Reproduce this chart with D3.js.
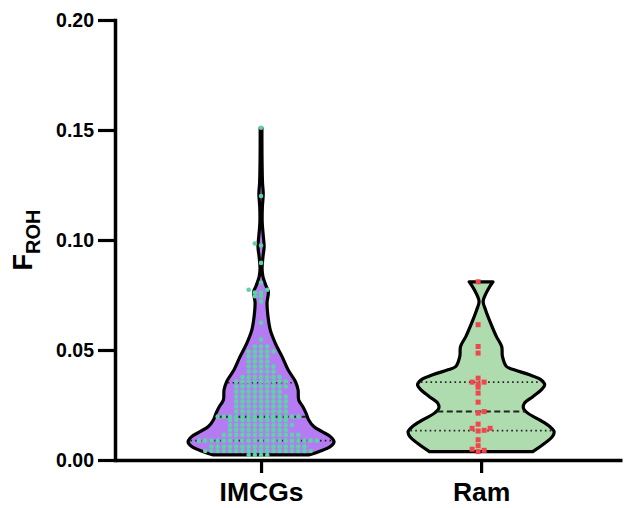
<!DOCTYPE html>
<html>
<head>
<meta charset="utf-8">
<script src="https://cdn.jsdelivr.net/npm/d3@7/dist/d3.min.js"></script>
<style>
  html, body { margin: 0; padding: 0; background: #fff; }
  svg { display: block; font-family: "Liberation Sans", Arial, Helvetica, sans-serif; font-weight: bold; }
</style>
</head>
<body>
<svg id="chart" width="625" height="508"></svg>
<script>
// ---------------- data ----------------
const categories = ["IMCGs", "Ram"];
const yTicks = [0, 0.05, 0.10, 0.15, 0.20];

// IMCGs FROH values (read row by row from the dot cloud)
const imcgsValues = [
  0.0023, 0.0023, 0.0023, 0.0023,
  0.0041, 0.0041, 0.0041, 0.0041, 0.0041, 0.0041, 0.0041, 0.0041, 0.0041, 0.0041, 0.0041, 0.0041, 0.0041, 0.0041, 0.0041, 0.0041, 0.0041, 0.0041,
  0.0061, 0.0061, 0.0061, 0.0061, 0.0061, 0.0061, 0.0061, 0.0061, 0.0061, 0.0061, 0.0061, 0.0061, 0.0061, 0.0061, 0.0061, 0.0061,
  0.0088, 0.0088, 0.0088, 0.0088, 0.0088, 0.0088, 0.0088, 0.0088, 0.0088, 0.0088, 0.0088, 0.0088, 0.0088, 0.0088, 0.0088, 0.0088, 0.0088, 0.0088, 0.0088, 0.0088,
  0.0114, 0.0114, 0.0114, 0.0114, 0.0114, 0.0114, 0.0114, 0.0114, 0.0114, 0.0114, 0.0114, 0.0114, 0.0114,
  0.0137, 0.0137, 0.0137, 0.0137, 0.0137, 0.0137, 0.0137, 0.0137, 0.0137, 0.0137,
  0.0159, 0.0159, 0.0159, 0.0159, 0.0159, 0.0159, 0.0159, 0.0159, 0.0159, 0.0159, 0.0159,
  0.0182, 0.0182, 0.0182, 0.0182, 0.0182, 0.0182, 0.0182, 0.0182, 0.0182, 0.0182,
  0.0197, 0.0197, 0.0197, 0.0197, 0.0197, 0.0197, 0.0197, 0.0197, 0.0197, 0.0197, 0.0197, 0.0197, 0.0197, 0.0197,
  0.0220, 0.0220, 0.0220, 0.0220, 0.0220, 0.0220, 0.0220, 0.0220, 0.0220,
  0.0243, 0.0243, 0.0243, 0.0243, 0.0243, 0.0243, 0.0243, 0.0243, 0.0243,
  0.0266, 0.0266, 0.0266, 0.0266, 0.0266, 0.0266, 0.0266, 0.0266, 0.0266,
  0.0288, 0.0288, 0.0288, 0.0288, 0.0288, 0.0288, 0.0288, 0.0288, 0.0288,
  0.0311, 0.0311, 0.0311, 0.0311, 0.0311, 0.0311, 0.0311, 0.0311,
  0.0334, 0.0334, 0.0334, 0.0334, 0.0334, 0.0334, 0.0334, 0.0334, 0.0334,
  0.0357, 0.0357, 0.0357, 0.0357, 0.0357, 0.0357, 0.0357, 0.0357, 0.0357,
  0.0377, 0.0377, 0.0377, 0.0377, 0.0377, 0.0377, 0.0377,
  0.0402, 0.0402, 0.0402, 0.0402, 0.0402,
  0.0425, 0.0425, 0.0425, 0.0425, 0.0425,
  0.0448, 0.0448, 0.0448, 0.0448,
  0.0471, 0.0471, 0.0471, 0.0471,
  0.0493, 0.0493, 0.0493, 0.0493, 0.0493,
  0.0516, 0.0516, 0.0516,
  0.0547, 0.0624, 0.0721, 0.0744, 0.0744, 0.0761, 0.0761, 0.0774, 0.0774,
  0.0806, 0.0896, 0.0975, 0.0984, 0.120, 0.151
];

// Ram FROH values
const ramValues = [
  0.0810, 0.0615, 0.0516, 0.0486, 0.0354, 0.0372, 0.0354, 0.0345, 0.0331,
  0.0304, 0.0263, 0.0220, 0.0213, 0.0163, 0.0144, 0.0144, 0.0135, 0.0132,
  0.0092, 0.0065, 0.0038, 0.0044, 0.0049
];

// violin outlines: [FROH value, relative density (1 = widest)]
const imcgsDensity = [
  [0.151, 0.012], [0.145, 0.012], [0.135, 0.014], [0.126, 0.02], [0.121, 0.03],
  [0.115, 0.018], [0.108, 0.016], [0.102, 0.03], [0.097, 0.042], [0.092, 0.025],
  [0.087, 0.014], [0.0835, 0.025], [0.079, 0.07], [0.0765, 0.1], [0.0714, 0.082],
  [0.065, 0.096], [0.059, 0.127], [0.053, 0.196], [0.047, 0.288], [0.041, 0.37],
  [0.0357, 0.47], [0.0319, 0.507], [0.0273, 0.516], [0.0243, 0.571], [0.0213, 0.616],
  [0.0182, 0.653], [0.0152, 0.722], [0.0129, 0.836], [0.0106, 0.95], [0.0083, 1.0],
  [0.0061, 0.95], [0.0038, 0.79], [0.0023, 0.653]
];
const ramDensity = [
  [0.0810, 0.163], [0.0774, 0.093], [0.0721, 0.028], [0.0683, 0.06], [0.0623, 0.129],
  [0.0562, 0.208], [0.0516, 0.282], [0.0471, 0.292], [0.0425, 0.347], [0.041, 0.454],
  [0.0387, 0.663], [0.0364, 0.824], [0.0342, 0.871], [0.0319, 0.824], [0.0288, 0.708],
  [0.0258, 0.593], [0.0236, 0.579], [0.0213, 0.639], [0.0182, 0.801], [0.0152, 0.94],
  [0.0129, 1.0], [0.0106, 0.976], [0.0076, 0.871], [0.0038, 0.708]
];

// ---------------- chart ----------------
const svg = d3.select("#chart");
const axisX = 115, axisY = 460;

const y = d3.scaleLinear().domain([0, 0.20]).range([460, 20]);
const x = d3.scalePoint().domain(categories).range([axisX, 622]).padding(0.652).align(0.509);
const w = d3.scaleLinear().domain([0, 1]).range([0, 73]);

const groups = [
  { name: "IMCGs", values: imcgsValues, density: imcgsDensity, fill: "#b47bf3", dot: "#5cd3a5", shape: "circle", spacing: 6.2, offsets: "center" },
  { name: "Ram", values: ramValues, density: ramDensity, fill: "#afdcae", dot: "#f0464e", shape: "square", spacing: 6, offsets: "half" }
];

function halfWidthAt(density, v) {
  const d = density.slice().sort((a, b) => a[0] - b[0]);
  if (v <= d[0][0]) return d[0][1];
  for (let i = 1; i < d.length; i++) {
    if (v <= d[i][0]) {
      const t = (v - d[i - 1][0]) / (d[i][0] - d[i - 1][0]);
      return d[i - 1][1] + t * (d[i][1] - d[i - 1][1]);
    }
  }
  return d[d.length - 1][1];
}

function dodge(values, spacing, mode, thresh) {
  const sorted = values.slice().sort((a, b) => a - b);
  const cands = [];
  for (let k = 0; k < 40; k++) {
    if (mode === "center") {
      if (k === 0) cands.push(0); else { cands.push(-k); cands.push(k); }
    } else {
      cands.push(-(k + 0.5)); cands.push(k + 0.5);
    }
  }
  const placed = [];
  sorted.forEach(v => {
    const py = y(v);
    for (const c of cands) {
      const hit = placed.some(p => p.c === c && Math.abs(p.py - py) < thresh);
      if (!hit) { placed.push({ v, py, c, dx: c * spacing }); break; }
    }
  });
  return placed;
}

groups.forEach(g => {
  const cx = x(g.name);
  const gg = svg.append("g");
  const area = d3.area()
    .y(d => y(d[0]))
    .x0(d => cx - w(d[1]))
    .x1(d => cx + w(d[1]))
    .curve(d3.curveCatmullRom.alpha(0.5));
  const dens = g.density.slice().sort((a, b) => b[0] - a[0]);
  gg.append("path")
    .datum(dens)
    .attr("d", area)
    .attr("fill", g.fill)
    .attr("stroke", "#000")
    .attr("stroke-width", 3.2)
    .attr("stroke-linejoin", "round");

  // quartile lines
  const s = g.values.slice().sort((a, b) => a - b);
  const q = [
    { v: d3.quantile(s, 0.25), dash: "1.6,3.2" },
    { v: d3.quantile(s, 0.5), dash: "6,3.5" },
    { v: d3.quantile(s, 0.75), dash: "1.6,3.2" }
  ];
  q.forEach(l => {
    const hw = w(halfWidthAt(g.density, l.v)) - 1.5;
    gg.append("line")
      .attr("x1", cx - hw).attr("x2", cx + hw)
      .attr("y1", y(l.v)).attr("y2", y(l.v))
      .attr("stroke", "#222")
      .attr("stroke-width", l.dash.startsWith("6") ? 2 : 1.6)
      .attr("stroke-dasharray", l.dash);
  });

  // points
  const pts = dodge(g.values, g.spacing, g.offsets, 3);
  if (g.shape === "circle") {
    gg.selectAll("circle.pt").data(pts).join("circle")
      .attr("class", "pt")
      .attr("cx", d => cx + d.dx)
      .attr("cy", d => d.py)
      .attr("r", 2.3)
      .attr("fill", g.dot);
  } else {
    gg.selectAll("rect.pt").data(pts).join("rect")
      .attr("class", "pt")
      .attr("x", d => cx + d.dx - 2.5)
      .attr("y", d => d.py - 2.5)
      .attr("width", 5).attr("height", 5)
      .attr("fill", g.dot);
  }
});

// y axis
const yAxis = svg.append("g")
  .attr("transform", `translate(${axisX},0)`)
  .call(d3.axisLeft(y).tickValues(yTicks).tickFormat(d3.format(".2f")).tickSize(17).tickSizeOuter(0).tickPadding(4));
yAxis.select(".domain").attr("stroke", "#000").attr("stroke-width", 3.5).attr("stroke-linecap", "square");
yAxis.selectAll(".tick line").attr("stroke", "#000").attr("stroke-width", 3.2);
yAxis.selectAll(".tick text")
  .attr("fill", "#000")
  .style("font-size", "19.5px")
  .style("font-weight", "bold")
  .style("font-family", "'Liberation Sans', Arial, sans-serif");

// x axis
const xAxis = svg.append("g")
  .attr("transform", `translate(0,${axisY})`)
  .call(d3.axisBottom(x).tickSize(13).tickSizeOuter(0).tickPadding(9.5));
xAxis.select(".domain").attr("stroke", "#000").attr("stroke-width", 3.5);
xAxis.selectAll(".tick line").attr("stroke", "#000").attr("stroke-width", 3.2);
xAxis.selectAll(".tick text")
  .attr("fill", "#000")
  .style("font-size", "26.5px")
  .style("font-weight", "bold")
  .style("font-family", "'Liberation Sans', Arial, sans-serif");

// y title F_ROH
const title = svg.append("text")
  .attr("transform", "translate(32,240) rotate(-90)")
  .attr("text-anchor", "middle")
  .style("font-weight", "bold")
  .style("font-family", "'Liberation Sans', Arial, sans-serif");
title.append("tspan").style("font-size", "27px").text("F");
title.append("tspan").style("font-size", "20px").attr("dy", 8).text("ROH");
</script>
</body>
</html>
